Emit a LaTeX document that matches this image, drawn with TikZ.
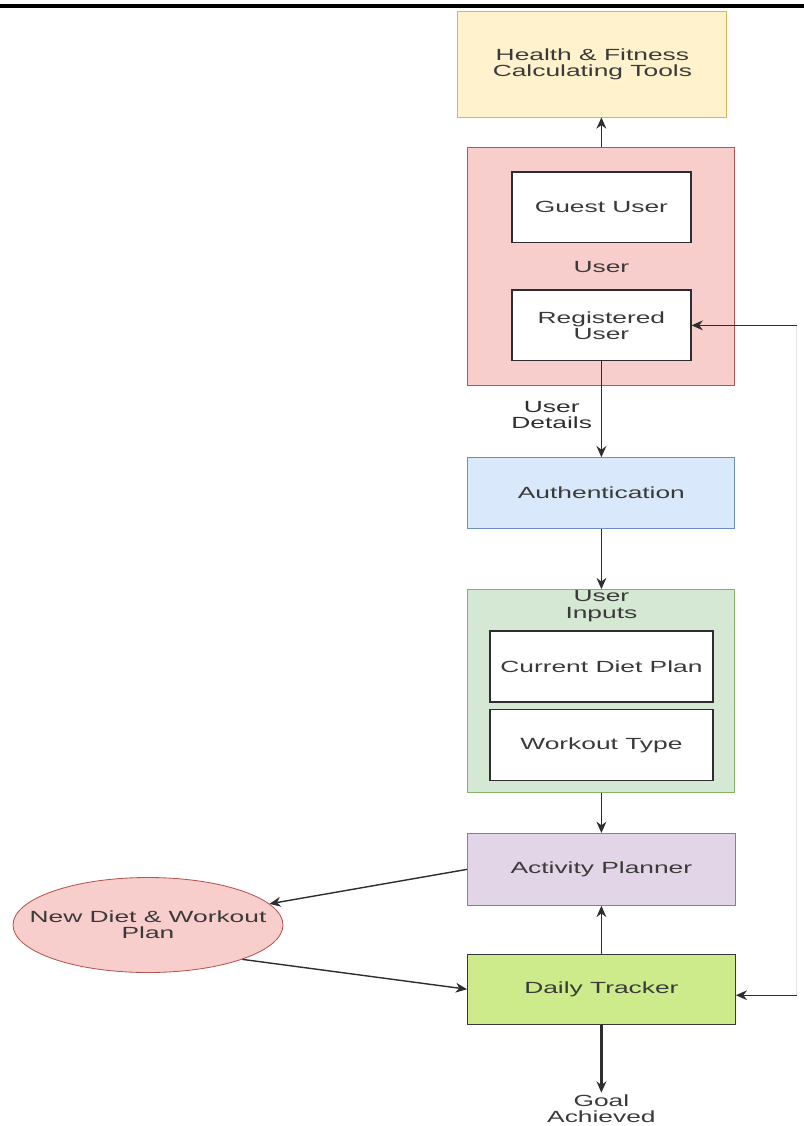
\documentclass[tikz,border=0pt]{standalone}
\usepackage{fontspec}
\setmainfont{Liberation Sans}[FakeStretch=1.63]
\usepackage{tikz}
\usetikzlibrary{shapes,arrows.meta,positioning,calc}
\definecolor{toolfill}{HTML}{FFF2CC}
\definecolor{tooldraw}{HTML}{D6B656}
\definecolor{userfill}{HTML}{F8CECC}
\definecolor{userdraw}{HTML}{B85450}
\definecolor{authfill}{HTML}{DAE8FC}
\definecolor{authdraw}{HTML}{6C8EBF}
\definecolor{inputfill}{HTML}{D5E8D4}
\definecolor{inputdraw}{HTML}{82B366}
\definecolor{planfill}{HTML}{E1D5E7}
\definecolor{plandraw}{HTML}{9673A6}
\definecolor{trackfill}{HTML}{CDEB8B}
\definecolor{trackdraw}{HTML}{36393D}
\definecolor{textgray}{HTML}{3A3A3A}
\definecolor{linegray}{HTML}{2E2E2E}

\begin{document}
\begin{tikzpicture}[
      node distance=1.2cm,
      font=\fontsize{11.5}{11.5}\selectfont,
      text=textgray,
      base/.style={rectangle, line width=0.6pt, align=center, inner sep=0pt},
      toolbox/.style={base, draw=tooldraw, fill=toolfill, minimum width=6.725cm, minimum height=2.65cm},
      userbox/.style={base, draw=userdraw, fill=userfill, minimum width=6.675cm, minimum height=5.95cm},
      innerbox/.style={base, draw=linegray, fill=white, line width=1pt, minimum width=4.475cm, minimum height=1.76cm},
      authbox/.style={base, draw=authdraw, fill=authfill, minimum width=6.675cm, minimum height=1.775cm},
      inputbox/.style={base, draw=inputdraw, fill=inputfill, minimum width=6.675cm, minimum height=5.075cm},
      inputitem/.style={base, draw=linegray, fill=white, line width=1pt, minimum width=5.575cm, minimum height=1.78cm},
      plannerbox/.style={base, draw=plandraw, fill=planfill, minimum width=6.7cm, minimum height=1.8cm},
      trackerbox/.style={base, draw=trackdraw, fill=trackfill, minimum width=6.7cm, minimum height=1.75cm},
      planellipse/.style={ellipse, draw=userdraw, fill=userfill, line width=0.6pt, inner sep=0pt, minimum width=6.75cm, minimum height=2.375cm},
      arrow/.style={-{Stealth[length=8pt, width=7pt]}, line width=1pt, color=linegray},
      loopline/.style={line width=0.6pt, color=gray!20}
    ]
      \useasboundingbox (0,0) rectangle (20.1,-28.15);
      \draw[line width=2.8pt] (0,-0.15) -- (20.1,-0.15);

      \node[toolbox] (tools) at (14.81,-1.6) {Health \& Fitness\\Calculating Tools};
      \node[userbox, below=0.75cm of tools, xshift=0.225cm] (user) {User};
      \node[innerbox, below=0.6cm of user.north] (guest) {Guest User};
      \node[innerbox, above=0.625cm of user.south] (registered) {Registered\\User};

      \node[authbox, below=1.775cm of user] (auth) {Authentication};

      \node[inputbox, below=1.5cm of auth, label={[anchor=north, align=center, inner sep=1pt]north:User\\Inputs}] (inputs) {};
      \node[inputitem, below=1.025cm of inputs.north] (diet) {Current Diet Plan};
      \node[inputitem, below=0.15cm of diet] (workout) {Workout Type};

      \node[plannerbox, below=1.0cm of inputs] (planner) {Activity Planner};
      \node[trackerbox, below=1.2cm of planner] (tracker) {Daily Tracker};
      \node[below=1.7cm of tracker, align=center, inner sep=1pt] (goal) {Goal\\Achieved};

      \node[planellipse, label={[align=center]center:New Diet \& Workout\\Plan}] (plan) at (3.7,-23.125) {};

      \draw[arrow] (user.north) -- (user.north |- tools.south);
      \draw[arrow] (registered) -- node[left, pos=0.56, xshift=-0.1cm, align=center]{User\\Details} (auth);
      \draw[arrow] (auth) -- (inputs);
      \draw[arrow] (inputs) -- (planner);
      \draw[arrow] (tracker) -- (planner);
      \draw[arrow] (planner.west) -- (plan);
      \draw[arrow] (plan.-20) -- (tracker.west);
      \draw[arrow, line width=1.8pt] (tracker) -- (goal);

      \coordinate (loopbot) at ($(tracker.east)+(1.525,-0.15)$);
      \coordinate (looptop) at (loopbot |- registered.east);
      \draw[loopline] (loopbot) -- (looptop);
      \draw[arrow] (looptop) -- (registered.east);
      \draw[arrow] (loopbot) -- (tracker.east |- loopbot);
    \end{tikzpicture}
\end{document}
